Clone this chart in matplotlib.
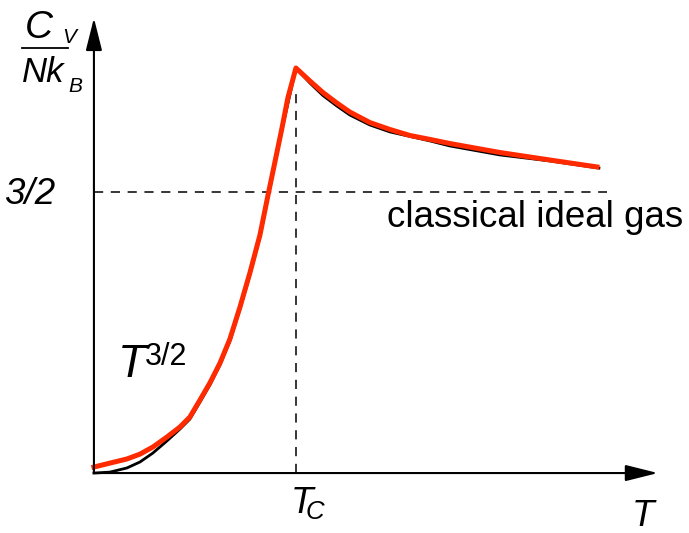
import matplotlib
matplotlib.use('Agg')
from matplotlib import pyplot as plt

# heat capacity of the ideal Bose gas, T in units of Tc, Cv in units of N k_B
t_red = [0.000, 0.079, 0.163, 0.228, 0.292, 0.361, 0.426, 0.475, 0.525, 0.574,
         0.624, 0.673, 0.723, 0.772, 0.822, 0.861, 0.896, 0.931, 0.960, 1.000,
         1.069, 1.134, 1.203, 1.267, 1.366, 1.465, 1.564, 1.663, 1.762, 2.010,
         2.257, 2.490]
cv_red = [0.032, 0.053, 0.075, 0.101, 0.139, 0.192, 0.246, 0.299, 0.390, 0.481,
          0.587, 0.715, 0.886, 1.068, 1.271, 1.479, 1.660, 1.842, 2.002, 2.162,
          2.093, 2.031, 1.975, 1.927, 1.871, 1.834, 1.802, 1.781, 1.759, 1.711,
          1.671, 1.634]

t_black = [0.000, 0.079, 0.163, 0.228, 0.292, 0.361, 0.426, 0.475, 0.525, 0.574,
           0.624, 0.673, 0.723, 0.772, 0.822, 0.861, 0.931, 1.000, 1.069, 1.134,
           1.203, 1.267, 1.366, 1.465, 1.663, 1.762, 2.010, 2.257, 2.500]
cv_black = [0.000, 0.005, 0.027, 0.059, 0.107, 0.171, 0.235, 0.288, 0.379, 0.470,
            0.577, 0.704, 0.875, 1.057, 1.260, 1.468, 1.832, 2.162, 2.082, 2.015,
            1.959, 1.911, 1.858, 1.821, 1.773, 1.746, 1.698, 1.666, 1.628]

t_c = 1.0
cv_classical = 1.5

plt.rcParams['font.family'] = ['Liberation Sans', 'DejaVu Sans']
plt.rcParams['mathtext.fontset'] = 'custom'
plt.rcParams['mathtext.it'] = 'Liberation Sans:italic'
plt.rcParams['mathtext.rm'] = 'Liberation Sans'

fig = plt.figure(figsize=(6.89, 5.33), dpi=100)
ax = fig.add_axes([0, 0, 1, 1])
ax.set_xlim(-0.465, 2.946)
ax.set_ylim(-0.320, 2.525)
ax.set_axis_off()

# axes with arrow heads
arrow = dict(arrowstyle='-|>,head_length=2.0,head_width=0.5', mutation_scale=10,
             lw=1.5, color='black', shrinkA=0, shrinkB=0)
ax.annotate('', xy=(0, 2.429), xytext=(0, 0), arrowprops=arrow)
ax.annotate('', xy=(2.792, 0), xytext=(0, 0), arrowprops=arrow)

# guide lines
ax.plot([0, 2.540], [cv_classical, cv_classical], color='black', lw=1.1,
        linestyle=(0, (6, 5)))
ax.plot([t_c, t_c], [0, 2.06], color='black', lw=1.1, linestyle=(0, (6, 5)))

ax.plot(t_black, cv_black, color='black', lw=2.0, solid_joinstyle='round')
ax.plot(t_red, cv_red, color='#ff2a00', lw=3.6, solid_joinstyle='round')

fs = 26.5
ax.text(-0.193, 1.436, '3/2', fontsize=fs, style='italic', ha='right',
        va='baseline')
ax.text(1.450, 1.313, 'classical ideal gas', fontsize=fs, ha='left',
        va='baseline')
ax.text(0.119, 0.513, 'T', fontsize=33, style='italic', ha='left',
        va='baseline')
ax.text(0.252, 0.577, '3/2', fontsize=22, ha='left', va='baseline')

ax.text(0.970, -0.214, r'$T_{\!\!C}$', fontsize=fs, ha='left', va='baseline')
ax.text(2.663, -0.285, 'T', fontsize=fs, style='italic', ha='left',
        va='baseline')

# y axis label as a fraction
ax.text(-0.342, 2.323, 'C', fontsize=28, style='italic', ha='left',
        va='baseline')
ax.text(-0.158, 2.296, 'V', fontsize=15, style='italic', ha='left',
        va='baseline')
ax.plot([-0.356, -0.129], [2.269, 2.269], color='black', lw=1.3)
ax.text(-0.356, 2.088, 'Nk', fontsize=25, style='italic', ha='left',
        va='baseline')
ax.text(-0.129, 2.034, 'B', fontsize=15, style='italic', ha='left',
        va='baseline')

fig.savefig('out.png', dpi=100)
